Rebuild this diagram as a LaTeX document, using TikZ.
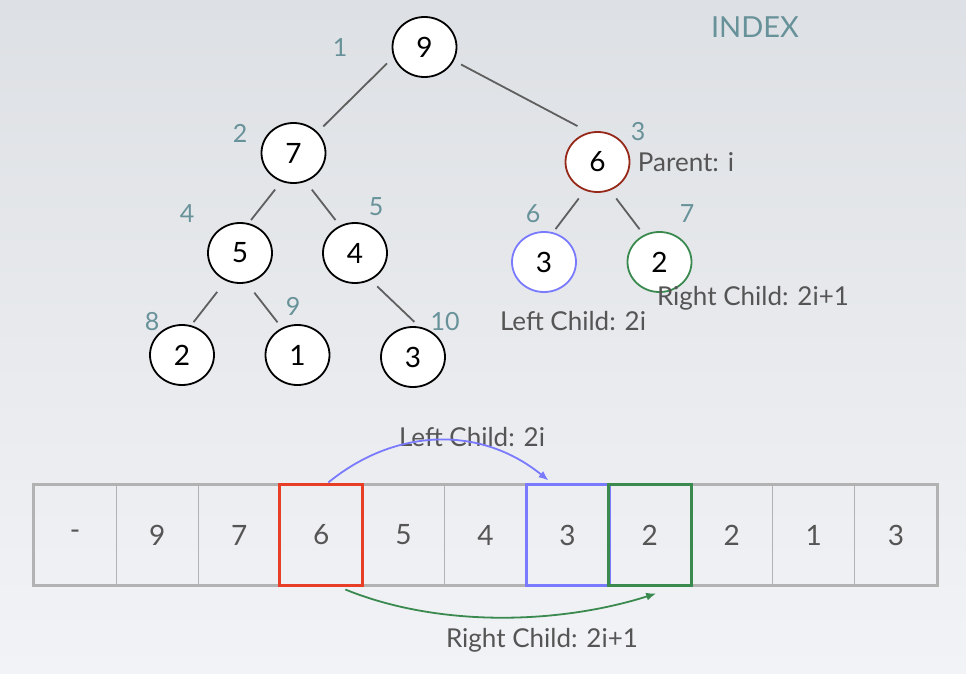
\documentclass[tikz,border=0pt]{standalone}
\usepackage{fontspec}
\setmainfont{Lato}
\usetikzlibrary{arrows.meta,shapes.geometric}
\definecolor{bgtop}{RGB}{221,224,228}
\definecolor{bgbot}{RGB}{242,243,246}
\definecolor{idxc}{RGB}{104,146,153}
\definecolor{txtc}{RGB}{85,85,85}
\definecolor{edgec}{RGB}{95,95,95}
\definecolor{redc}{RGB}{150,40,25}
\definecolor{redbox}{RGB}{232,62,40}
\definecolor{bluec}{RGB}{122,122,255}
\definecolor{greenc}{RGB}{58,138,80}
\definecolor{gridc}{RGB}{178,178,178}
\begin{document}
\begin{tikzpicture}[x=1pt,y=-1pt,
  tnode/.style={ellipse,draw=black,line width=1.8pt,fill=white,minimum width=64pt,minimum height=60pt,inner sep=0pt,text=black,font=\fontsize{28}{30}\selectfont},
  idx/.style={text=idxc,inner sep=0pt,font=\fontsize{25}{27}\selectfont},
  lbl/.style={text=txtc,inner sep=0pt,font=\fontsize{26}{28}\selectfont},
  cell/.style={draw=gridc,line width=1pt,minimum width=82.09pt,minimum height=100pt,inner sep=0pt,text=txtc,font=\fontsize{28}{30}\selectfont},
  edge/.style={draw=edgec,line width=1.8pt},
  arr/.style={line width=1.8pt,-{Latex[length=10pt,width=8pt]}}]
\shade[top color=bgtop,bottom color=bgbot] (0,0) rectangle (966,674);
\useasboundingbox (0,0) rectangle (966,674);

% tree nodes
\node[tnode] (n9) at (424.5,47) {9};
\node[tnode] (n7) at (293.5,153) {7};
\node[tnode] (n5) at (240,253) {5};
\node[tnode] (n4) at (355,253) {4};
\node[tnode] (n2) at (182,355) {2};
\node[tnode] (n1) at (297.5,355) {1};
\node[tnode] (n3) at (413,357) {3};
\node[tnode,draw=redc] (n6) at (597.5,162) {6};
\node[tnode,draw=bluec] (nb) at (544,262) {3};
\node[tnode,draw=greenc] (ng) at (659.5,262) {2};

% tree edges
\path[edge,shorten <=9pt,shorten >=8pt] (n9.198) -- (n7.41);
\path[edge,shorten <=8pt,shorten >=13pt] (n9.335) -- (n6.106);
\path[edge,shorten <=10pt,shorten >=4pt] (n7.247) -- (n5.74);
\path[edge,shorten <=10pt,shorten >=7pt] (n7.293) -- (n4.119);
\path[edge,shorten <=14pt,shorten >=4pt] (n5.243) -- (n2.73);
\path[edge,shorten <=12pt,shorten >=7pt] (n5.283) -- (n1.120);
\path[edge,shorten <=9pt,shorten >=7pt] (n4.300) -- (n3.78);
\path[edge,shorten <=10pt,shorten >=4pt] (n6.246) -- (nb.73);
\path[edge,shorten <=10pt,shorten >=7pt] (n6.294) -- (ng.120);

% index labels
\node[idx] (i1) at (340,48) {1};
\node[idx] (i2) at (240,133) {2};
\node[idx] (i3) at (638,132) {3};
\node[idx] (i4) at (187,214) {4};
\node[idx] (i5) at (376,207) {5};
\node[idx] (i6) at (533,214) {6};
\node[idx] (i7) at (687,214) {7};
\node[idx] (i8) at (152,322) {8};
\node[idx] (i9) at (293,306) {9};
\node[idx] (i10) at (445,322) {10};
\node[text=idxc,inner sep=0pt,font=\fontsize{29}{31}\selectfont] (title) at (755,27) {INDEX};

% tree annotations
\node[lbl] (tparent) at (686,162) {Parent: i};
\node[lbl] (tleft) at (573,321) {Left Child: 2i};
\node[lbl] (tright) at (753,298) {Right Child: 2i+1};

% array
\foreach \v [count=\i from 0] in {-,9,7,6,5,4,3,2,2,1,3} {
  \node[cell] (c\i) at ({34+82.09*(\i+0.5)},535) {\v};
}
\draw[gridc,line width=3pt] (c0.north west) rectangle (c10.south east);
\draw[redbox,line width=3pt] (c3.north west) rectangle (c3.south east);
\draw[bluec,line width=3pt] (c6.north west) rectangle (c6.south east);
\draw[greenc,line width=3pt] (c7.north west) rectangle (c7.south east);

% array annotations
\node[lbl] (aleft) at (472,437) {Left Child: 2i};
\node[lbl] (aright) at (542,640) {Right Child: 2i+1};
\draw[arr,bluec] ([xshift=7pt,yshift=2pt]c3.north) .. controls (395,428) and (480,425) .. ([xshift=-19pt,yshift=4pt]c6.north);
\draw[arr,greenc] ([xshift=24pt,yshift=-4pt]c3.south) .. controls (440,628) and (560,624) .. ([xshift=6.5pt,yshift=-8pt]c7.south);
\end{tikzpicture}
\end{document}
